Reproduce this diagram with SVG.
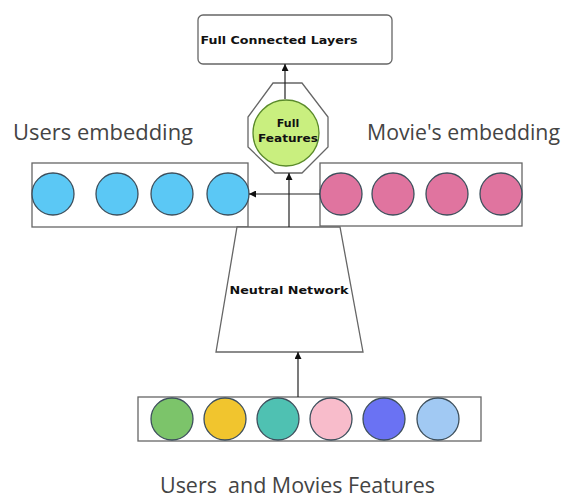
<svg xmlns="http://www.w3.org/2000/svg" width="561" height="498" viewBox="0 0 561 498">
<defs>
<style>
.box{fill:#fff;stroke:#666;stroke-width:1.3}
.ln{fill:none;stroke:#222;stroke-width:1.2}
.c{stroke:#3d4f5c;stroke-width:1.3}
.lbl{font-family:"Open Sans","Noto Sans",sans-serif;font-size:21px;fill:#444;white-space:pre}
.b{font-family:"DejaVu Sans",Verdana,sans-serif;font-weight:bold;font-size:11px;fill:#111;text-anchor:middle}
</style>
<marker id="ah" viewBox="0 0 10 10" refX="10" refY="5" markerWidth="7" markerHeight="7" orient="auto" markerUnits="userSpaceOnUse"><path d="M0,0 L10,5 L0,10 z" fill="#111"/></marker>
</defs>
<rect width="561" height="498" fill="#fff"/>
<g id="fcl">
<rect class="box" x="198" y="15" width="194" height="49" rx="5"/>
<text class="b" x="279" y="44" textLength="157" lengthAdjust="spacingAndGlyphs">Full Connected Layers</text>
</g>
<g id="full-features">
<polygon class="box" points="273,83 302,83 328,117 328,147 302,173 275,173 248,147 248,117"/>
<circle cx="286" cy="133" r="33" fill="#c9ef7f" stroke="#5a8a2a" stroke-width="1.3"/>
<text class="b" x="288" y="127" fill="#1c3a10">Full</text>
<text class="b" x="288" y="142" fill="#1c3a10" textLength="60" lengthAdjust="spacingAndGlyphs">Features</text>
</g>
<g id="users-embedding">
<text class="lbl" x="13" y="140" textLength="180" lengthAdjust="spacingAndGlyphs">Users embedding</text>
<rect class="box" x="32" y="163" width="216" height="64"/>
<circle class="c" cx="53" cy="194" r="21" fill="#5bc8f5"/>
<circle class="c" cx="117" cy="194" r="21" fill="#5bc8f5"/>
<circle class="c" cx="172" cy="194" r="21" fill="#5bc8f5"/>
<circle class="c" cx="228" cy="194" r="21" fill="#5bc8f5"/>
</g>
<g id="movies-embedding">
<text class="lbl" x="367" y="140" textLength="193" lengthAdjust="spacingAndGlyphs">Movie's embedding</text>
<rect class="box" x="320" y="163" width="202" height="63"/>
<circle class="c" cx="341" cy="194" r="21" fill="#e0749f"/>
<circle class="c" cx="393" cy="194" r="21" fill="#e0749f"/>
<circle class="c" cx="447" cy="194" r="21" fill="#e0749f"/>
<circle class="c" cx="501" cy="194" r="21" fill="#e0749f"/>
</g>
<g id="neural-network">
<polygon class="box" points="237,227 340,227 363,352 216,352"/>
<text class="b" x="289" y="294" textLength="119" lengthAdjust="spacingAndGlyphs">Neutral Network</text>
</g>
<g id="features">
<rect class="box" x="138" y="397" width="343" height="44"/>
<circle class="c" cx="172" cy="419" r="21" fill="#7cc46a"/>
<circle class="c" cx="225" cy="419" r="21" fill="#f1c52e"/>
<circle class="c" cx="278" cy="419" r="21" fill="#4fc1b2"/>
<circle class="c" cx="331" cy="419" r="21" fill="#f8bccb"/>
<circle class="c" cx="384" cy="419" r="21" fill="#6a72f3"/>
<circle class="c" cx="438" cy="419" r="21" fill="#a1c9f3"/>
<text class="lbl" x="160" y="493" textLength="275" lengthAdjust="spacingAndGlyphs" xml:space="preserve">Users  and Movies Features</text>
</g>
<g id="connectors">
<line class="ln" x1="285" y1="99" x2="285" y2="64" marker-end="url(#ah)"/>
<line class="ln" x1="289" y1="227" x2="289" y2="173" marker-end="url(#ah)"/>
<line class="ln" x1="320" y1="194" x2="249" y2="194" marker-end="url(#ah)"/>
<line class="ln" x1="298" y1="397" x2="298" y2="352" marker-end="url(#ah)"/>
</g>
</svg>
